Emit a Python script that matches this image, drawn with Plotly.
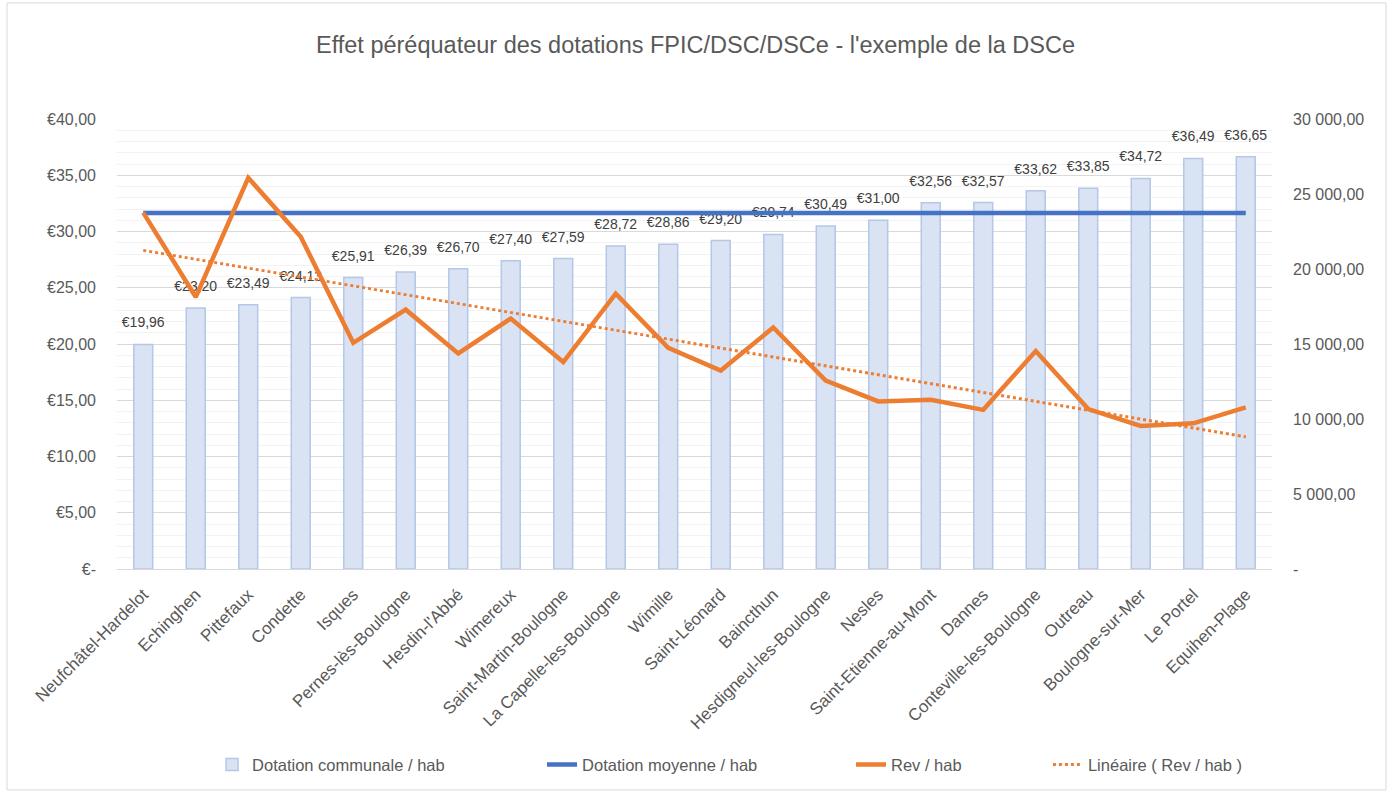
import numpy as np
import plotly.graph_objects as go

communes = ["Neufchâtel-Hardelot", "Echinghen", "Pittefaux", "Condette", "Isques",
            "Pernes-lès-Boulogne", "Hesdin-l'Abbé", "Wimereux", "Saint-Martin-Boulogne",
            "La Capelle-les-Boulogne", "Wimille", "Saint-Léonard", "Baincthun",
            "Hesdigneul-les-Boulogne", "Nesles", "Saint-Etienne-au-Mont", "Dannes",
            "Conteville-les-Boulogne", "Outreau", "Boulogne-sur-Mer", "Le Portel", "Equihen-Plage"]
dotation_communale = [19.96, 23.20, 23.49, 24.13, 25.91, 26.39, 26.70, 27.40, 27.59, 28.72, 28.86,
                      29.20, 29.74, 30.49, 31.00, 32.56, 32.57, 33.62, 33.85, 34.72, 36.49, 36.65]
dotation_moyenne = [31.64] * len(communes)
rev_hab = [23760, 18130, 26080, 22150, 15080, 17290, 14370, 16700, 13800, 18350, 14750,
           13230, 16100, 12560, 11170, 11280, 10610, 14530, 10660, 9540, 9710, 10770]

left_tickvals = [0, 5, 10, 15, 20, 25, 30, 35, 40]
left_ticktext = ["€-", "€5,00", "€10,00", "€15,00", "€20,00", "€25,00", "€30,00", "€35,00", "€40,00"]
right_tickvals = [0, 5000, 10000, 15000, 20000, 25000, 30000]
right_ticktext = ["-", "5 000,00", "10 000,00", "15 000,00", "20 000,00", "25 000,00", "30 000,00"]

title = "Effet péréquateur des dotations FPIC/DSC/DSCe - l'exemple de la DSCe"

# linear trend (least squares) of Rev / hab
idx = np.arange(len(rev_hab))
slope, intercept = np.polyfit(idx, np.array(rev_hab, dtype=float), 1)
trend = (slope * idx + intercept).tolist()

bar_labels = ["€" + f"{v:.2f}".replace(".", ",") for v in dotation_communale]

FONT = "Liberation Sans"
GREY = "#595959"

fig = go.Figure()
fig.add_trace(go.Bar(
    x=communes, y=dotation_communale, name="Dotation communale / hab",
    marker=dict(color="#DAE3F3", line=dict(color="#B4C7E7", width=1.5)),
    width=0.36, legend="legend", hoverinfo="skip"))
# data labels above the bars (invisible markers push the text upward)
fig.add_trace(go.Scatter(
    x=communes, y=dotation_communale, mode="markers+text", text=bar_labels,
    textposition="top center", marker=dict(size=20, color="rgba(0,0,0,0)"),
    textfont=dict(family=FONT, size=14, color="#404040"), showlegend=False,
    cliponaxis=False, hoverinfo="skip"))
fig.add_trace(go.Scatter(
    x=communes, y=dotation_moyenne, name="Dotation moyenne / hab", mode="lines",
    line=dict(color="#4472C4", width=4.5), legend="legend2"))
fig.add_trace(go.Scatter(
    x=communes, y=rev_hab, name="Rev / hab", mode="lines", yaxis="y2",
    line=dict(color="#ED7D31", width=4.5), legend="legend3"))
fig.add_trace(go.Scatter(
    x=communes, y=trend, name="Linéaire ( Rev / hab )", mode="lines", yaxis="y2",
    line=dict(color="#ED7D31", width=3, dash="dot"), legend="legend4"))

legend_common = dict(orientation="h", yanchor="middle", y=-0.435, xanchor="left",
                     font=dict(family=FONT, size=16.5, color=GREY), bgcolor="rgba(0,0,0,0)")

fig.update_layout(
    width=1391, height=794,
    margin=dict(l=117, r=119, t=119, b=225),
    paper_bgcolor="white", plot_bgcolor="white",
    title=dict(text=title, x=0.5, xanchor="center", y=0.943, yanchor="middle",
               font=dict(family=FONT, size=23.5, color=GREY)),
    font=dict(family=FONT, color=GREY),
    xaxis=dict(range=[-0.5, len(communes) - 0.5], tickangle=-45,
               tickfont=dict(family=FONT, size=17, color=GREY),
               showline=True, linecolor="#D9D9D9", linewidth=1, showgrid=False,
               ticks="", ticklabelstandoff=8),
    yaxis=dict(range=[0, 40], tickmode="array", tickvals=left_tickvals, ticktext=left_ticktext,
               showgrid=True, gridcolor="#D9D9D9", gridwidth=1, zeroline=False,
               minor=dict(tickmode="linear", tick0=0, dtick=1, showgrid=True,
                          gridcolor="#F2F2F2", gridwidth=1),
               tickfont=dict(family=FONT, size=16, color=GREY), ticklabelstandoff=20),
    yaxis2=dict(range=[0, 30000], overlaying="y", side="right", tickmode="array",
                tickvals=right_tickvals, ticktext=right_ticktext, showgrid=False,
                zeroline=False, tickfont=dict(family=FONT, size=16, color=GREY),
                ticklabelstandoff=20),
    showlegend=True,
    legend=dict(x=0.0823, **legend_common),
    legend2=dict(x=0.368, **legend_common),
    legend3=dict(x=0.6355, **legend_common),
    legend4=dict(x=0.806, **legend_common),
    shapes=[dict(type="rect", xref="paper", yref="paper", x0=-0.0952, x1=1.0987,
                 y0=-0.491, y1=1.258, line=dict(color="#D9D9D9", width=1), layer="below")],
)

fig.write_html("out.html", config={"displayModeBar": False},
               post_script="document.body.style.margin='0';")
